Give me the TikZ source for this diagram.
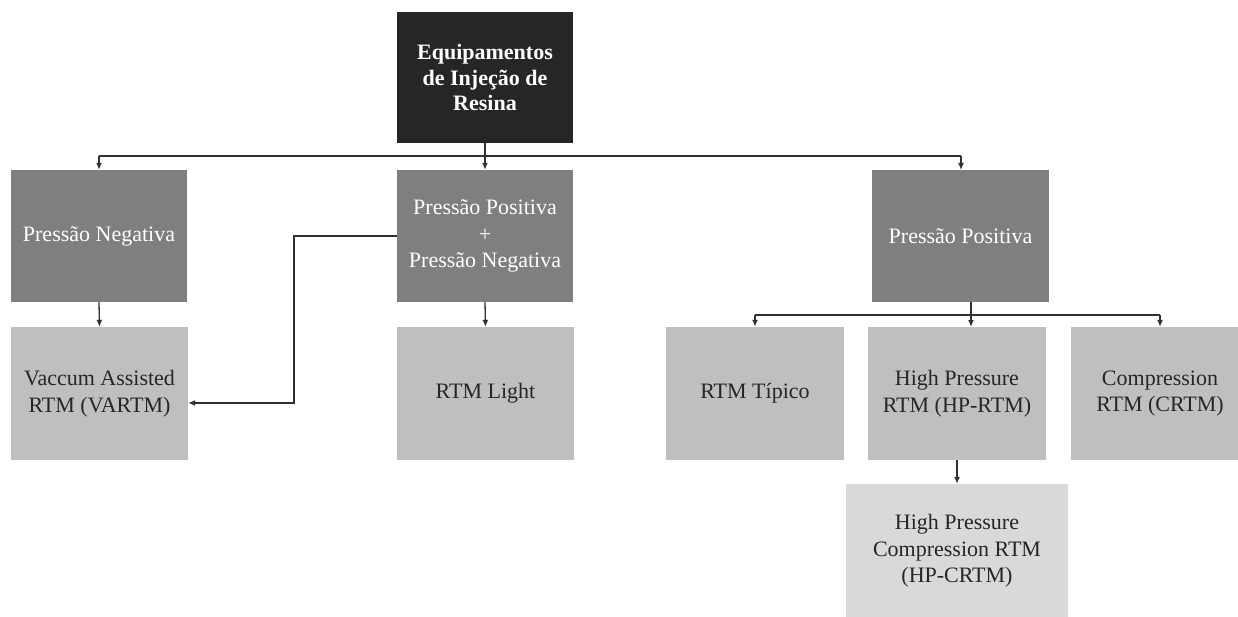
\documentclass[tikz,border=0pt]{standalone}
\usepackage{fontspec}
\setmainfont{Liberation Serif}
\usetikzlibrary{arrows.meta}
\definecolor{cdark}{HTML}{262626}
\definecolor{cmid}{HTML}{7F7F7F}
\definecolor{clight}{HTML}{BFBFBF}
\definecolor{cpale}{HTML}{D9D9D9}
\definecolor{cline}{HTML}{303030}
\tikzset{
  box/.style={rectangle, inner sep=0pt, align=center, minimum width=#1, minimum height=132pt, font=\fontsize{22}{26.5}\selectfont},
  topbox/.style={box=176pt, minimum height=131pt, fill=cdark, text=white, font=\fontsize{22}{25.5}\selectfont\bfseries},
  midbox/.style={box=#1, fill=cmid, text=white},
  lowbox/.style={box=#1, fill=clight, minimum height=133pt, text=black!85},
  palebox/.style={box=#1, fill=cpale, minimum height=134pt, text=black!85},
  conn/.style={draw=cline, line width=1.3pt},
  arr/.style={conn, -{Latex[length=7pt,width=6pt]}}
}
\begin{document}
\begin{tikzpicture}[x=1pt,y=-1pt]
\clip (0,0) rectangle (1238,617);
\fill[white] (0,0) rectangle (1238,617);
% nodes
\node[topbox] (top) at (485,77.5) {Equipamentos\\de Injeção de\\Resina};
\node[midbox=176pt] (pn) at (99,236) {Pressão Negativa};
\node[midbox=176pt] (ppn) at (485,236) {Pressão Positiva\\+\\Pressão Negativa};
\node[midbox=177pt] (pp) at (960.5,236) {Pressão Positiva};
\node[lowbox=177pt] (vartm) at (99.5,393.5) {Vaccum Assisted\\RTM (VARTM)};
\node[lowbox=177pt] (light) at (485.5,393.5) {RTM Light};
\node[lowbox=178pt] (tip) at (755,393.5) {RTM Típico};
\node[lowbox=178pt] (hp) at (957,393.5) {High Pressure\\RTM (HP-RTM)};
\node[lowbox=178pt] (cr) at (1160,393.5) {Compression\\RTM (CRTM)};
\node[palebox=222pt] (hpc) at (957,551) {High Pressure\\Compression RTM\\(HP-CRTM)};
% junctions
\coordinate (j1) at (top.south |- 0,156);
\coordinate (j2) at (971,315);
\coordinate (bend) at (294,236);
% top level connectors
\draw[conn] (top.south) -- (j1);
\draw[conn] (pn.north |- j1) -- (961,156);
\draw[arr] (pn.north |- j1) -- (pn.north);
\draw[arr] (j1) -- (ppn.north);
\draw[arr] (961,156) -- (961,170);
% level 1 to level 2
\draw[arr] (pn.south) -- (vartm.north);
\draw[arr] (ppn.south) -- (light.north);
\draw[arr] (ppn.west) -- (bend) -- (bend |- 0,403) -- (vartm.east |- 0,403);
% pressao positiva
\draw[conn] (971,302) -- (j2);
\draw[conn] (tip.north |- j2) -- (cr.north |- j2);
\draw[arr] (tip.north |- j2) -- (tip.north);
\draw[arr] (j2) -- (971,327);
\draw[arr] (cr.north |- j2) -- (cr.north);
% hp to hpc
\draw[arr] (hp.south) -- (hpc.north);
\end{tikzpicture}
\end{document}
